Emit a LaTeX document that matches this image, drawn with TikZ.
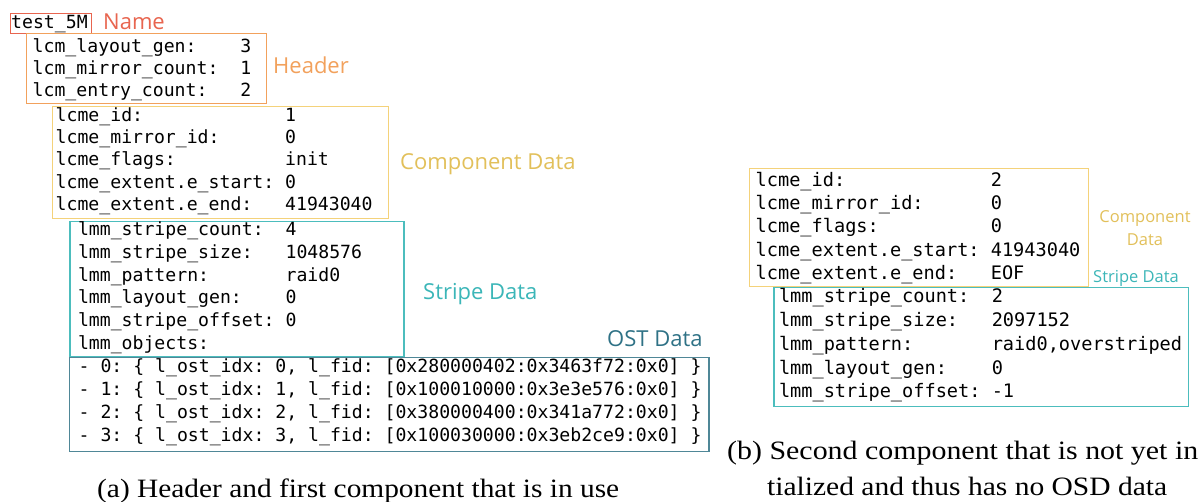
\documentclass[tikz,border=0pt]{standalone}
\usepackage{fontspec}
\usepackage{graphicx}
\newfontfamily\monof{DejaVu Sans Mono}
\newfontfamily\labf{Open Sans}
\newfontfamily\capf{Liberation Serif}
\definecolor{cName}{HTML}{E8654F}
\definecolor{cHead}{HTML}{F2A15C}
\definecolor{cCompBox}{HTML}{F4D27A}
\definecolor{cCompLab}{HTML}{E2C05A}
\definecolor{cStripeBox}{HTML}{4CBDBD}
\definecolor{cStripeLab}{HTML}{3BB6B8}
\definecolor{cOstBox}{HTML}{4F8797}
\definecolor{cOstLab}{HTML}{2F7286}
\tikzset{
  x=1pt, y=-1pt,
  boxnode/.style={draw, line width=1.2pt, inner sep=0pt, anchor=north west},
  mtxt/.style={anchor=base west, inner sep=0pt, text=black},
  lab/.style={anchor=base west, inner sep=0pt, font=\labf\fontsize{22}{26}\selectfont},
  labs/.style={inner sep=0pt, font=\labf\fontsize{16.5}{20}\selectfont},
  captxt/.style={anchor=base west, inner sep=0pt, font=\capf\fontsize{26.5}{30}\selectfont}
}
\begin{document}
\frenchspacing
\begin{tikzpicture}
\fill[white] (0,0) rectangle (1200,502);
\useasboundingbox (0,0) rectangle (1200,502);

% ---------- boxes ----------
\node[boxnode, draw=cName, minimum width=81pt, minimum height=20pt] (namebox) at (10,12.7) {};
\node[boxnode, draw=cHead, minimum width=240.3pt, minimum height=70pt] (hdrbox) at (25.7,33.3) {};
\node[boxnode, draw=cCompBox, minimum width=336pt, minimum height=112pt] (compbox) at (51.7,105.7) {};
\node[boxnode, draw=cStripeBox, minimum width=334pt, minimum height=135pt] (stripebox) at (69.3,220.7) {};
\node[boxnode, draw=cOstBox, minimum width=639.3pt, minimum height=93.7pt] (ostbox) at (69,357) {};
\node[boxnode, draw=cCompBox, minimum width=338.7pt, minimum height=117.7pt] (compboxR) at (749,168.3) {};
\node[boxnode, draw=cStripeBox, minimum width=414.4pt, minimum height=118.7pt] (stripeboxR) at (773.3,287.3) {};

% ---------- monospaced contents ----------
\node[mtxt, font=\monof\fontsize{18.15}{22}\selectfont\frenchspacing] (nametxt) at (11,28.3) {test\_5M};

\node[mtxt, font=\monof\fontsize{18.15}{22}\selectfont\frenchspacing] (hdrtxt) at (32.5,52.6) {%
\begin{tabular}[t]{@{}l@{\ \ }l@{}}
lcm\_layout\_gen: & 3\\
lcm\_mirror\_count: & 1\\
lcm\_entry\_count: & 2
\end{tabular}};

\node[mtxt, font=\monof\fontsize{18.15}{22.4}\selectfont\frenchspacing] (comptxt) at (55.5,121.2) {%
\begin{tabular}[t]{@{}l@{\ }l@{}}
lcme\_id: & 1\\
lcme\_mirror\_id: & 0\\
lcme\_flags: & init\\
lcme\_extent.e\_start: & 0\\
lcme\_extent.e\_end: & 41943040
\end{tabular}};

\node[mtxt, font=\monof\fontsize{18.15}{22.8}\selectfont\frenchspacing] (stripetxt) at (77.8,235.6) {%
\begin{tabular}[t]{@{}l@{\ }l@{}}
lmm\_stripe\_count: & 4\\
lmm\_stripe\_size: & 1048576\\
lmm\_pattern: & raid0\\
lmm\_layout\_gen: & 0\\
lmm\_stripe\_offset: & 0\\
lmm\_objects: &
\end{tabular}};

\node[mtxt, font=\monof\fontsize{18.15}{23}\selectfont\frenchspacing] (osttxt) at (78.5,372.6) {%
\begin{tabular}[t]{@{}l@{}}
- 0: \{ l\_ost\_idx: 0, l\_fid: [0x280000402:0x3463f72:0x0] \}\\
- 1: \{ l\_ost\_idx: 1, l\_fid: [0x100010000:0x3e3e576:0x0] \}\\
- 2: \{ l\_ost\_idx: 2, l\_fid: [0x380000400:0x341a772:0x0] \}\\
- 3: \{ l\_ost\_idx: 3, l\_fid: [0x100030000:0x3eb2ce9:0x0] \}
\end{tabular}};

\node[mtxt, font=\monof\fontsize{18.6}{23.3}\selectfont\frenchspacing] (comptxtR) at (755.5,186.2) {%
\begin{tabular}[t]{@{}l@{\ }l@{}}
lcme\_id: & 2\\
lcme\_mirror\_id: & 0\\
lcme\_flags: & 0\\
lcme\_extent.e\_start: & 41943040\\
lcme\_extent.e\_end: & EOF
\end{tabular}};

\node[mtxt, font=\monof\fontsize{18.6}{23.75}\selectfont\frenchspacing] (stripetxtR) at (778.8,302.8) {%
\begin{tabular}[t]{@{}l@{\ }l@{}}
lmm\_stripe\_count: & 2\\
lmm\_stripe\_size: & 2097152\\
lmm\_pattern: & raid0,overstriped\\
lmm\_layout\_gen: & 0\\
lmm\_stripe\_offset: & -1
\end{tabular}};

% ---------- labels ----------
\node[lab, text=cName] (namelab) at (103,29.5) {Name};
\node[lab, text=cHead] (hdrlab) at (273,74) {Header};
\node[lab, text=cCompLab] (complab) at (400,170) {Component Data};
\node[lab, text=cStripeLab] (stripelab) at (423,300) {Stripe Data};
\node[lab, text=cOstLab] (ostlab) at (607,346.5) {OST Data};
\node[labs, anchor=base, text=cCompLab] (complabR1) at (1145,222.5) {Component};
\node[labs, anchor=base, text=cCompLab] (complabR2) at (1145,246) {Data};
\node[labs, anchor=base west, text=cStripeLab] (stripelabR) at (1093,282.5) {Stripe Data};

% ---------- captions ----------
\node[captxt] (capa) at (97,497.5) {\resizebox{522pt}{\height}{(a) Header and first component that is in use}};
\node[captxt] (capb1) at (727,460) {\resizebox{471pt}{\height}{(b) Second component that is not yet in}};
\node[captxt] (capb2) at (767,495.5) {\resizebox{400pt}{\height}{tialized and thus has no OSD data}};
\end{tikzpicture}
\end{document}
